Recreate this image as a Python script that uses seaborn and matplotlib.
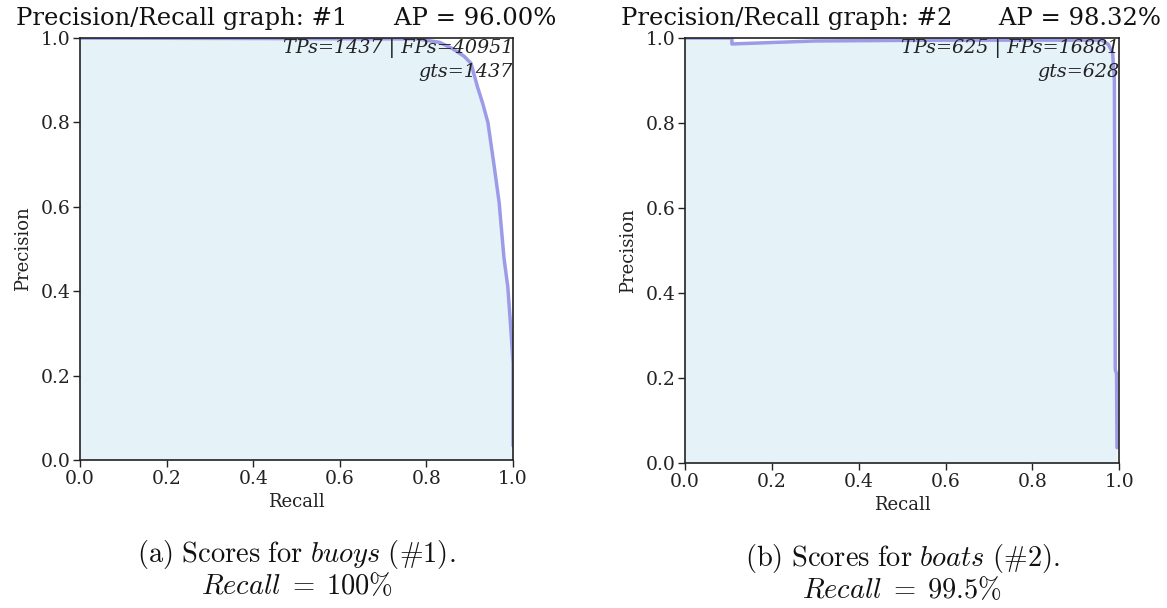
import matplotlib
matplotlib.use("Agg")
import matplotlib.pyplot as plt
import seaborn as sns
import pandas as pd

# Precision/recall curves for the two classes
buoys_recall = [0.0, 0.78, 0.83, 0.86, 0.887, 0.903, 0.918, 0.93, 0.942,
                0.956, 0.968, 0.979, 0.988, 0.995, 1.0, 1.0]
buoys_precision = [1.0, 0.998, 0.99, 0.975, 0.957, 0.94, 0.884, 0.845, 0.80,
                   0.70, 0.61, 0.48, 0.41, 0.31, 0.23, 0.034]

boats_recall = [0.0, 0.108, 0.108, 0.30, 0.60, 0.96, 0.975, 0.985, 0.989,
                0.990, 0.991, 0.994, 0.995]
boats_precision = [1.0, 1.0, 0.986, 0.993, 0.995, 0.995, 0.985, 0.965, 0.90,
                   0.60, 0.22, 0.21, 0.036]

titles = ["Precision/Recall graph: #1      AP = 96.00%",
          "Precision/Recall graph: #2      AP = 98.32%"]
counts = ["TPs=1437 | FPs=40951", "TPs=625 | FPs=16881"]
gts = ["gts=1437", "gts=628"]
captions = [r"$\mathrm{(a)\ Scores\ for\ }\mathit{buoys}\mathrm{\ (\#1).}$",
            r"$\mathrm{(b)\ Scores\ for\ }\mathit{boats}\mathrm{\ (\#2).}$"]
recall_notes = [r"$Recall\;=\;100\%$", r"$Recall\;=\;99.5\%$"]

sns.set_style("ticks")
plt.rcParams["font.family"] = ["DejaVu Serif"]
plt.rcParams["mathtext.fontset"] = "cm"

fig = plt.figure(figsize=(11.67, 6.08), dpi=100)
axes = [fig.add_axes([0.0686, 0.2434, 0.371, 0.694]),
        fig.add_axes([0.587, 0.2385, 0.372, 0.699])]

fill_color = "#e5f3f9"
line_color = "#9b9be8"

series = [(buoys_recall, buoys_precision), (boats_recall, boats_precision)]
for i, (ax, (rec, prec)) in enumerate(zip(axes, series)):
    df = pd.DataFrame({"Recall": rec, "Precision": prec})
    ax.fill_between(df["Recall"], 0, df["Precision"], color=fill_color,
                    linewidth=0, zorder=1)
    sns.lineplot(data=df, x="Recall", y="Precision", sort=False,
                 estimator=None, color=line_color, linewidth=2.5, ax=ax,
                 zorder=2)
    ax.set_xlim(0, 1)
    ax.set_ylim(0, 1)
    ax.set_xticks([0, 0.2, 0.4, 0.6, 0.8, 1.0])
    ax.set_yticks([0, 0.2, 0.4, 0.6, 0.8, 1.0])
    ax.tick_params(labelsize=13.5, length=5, width=1, color="#222222",
                   labelcolor="#222222", pad=2)
    ax.set_xlabel("Recall", fontsize=13, color="#222222", labelpad=4)
    ax.set_ylabel("Precision", fontsize=13, color="#222222", labelpad=6)
    for sp in ax.spines.values():
        sp.set_color("#222222")
        sp.set_linewidth(1.2)
    ax.text(0.475, 1.02, titles[i], transform=ax.transAxes, ha="center",
            va="bottom", fontsize=17.5, color="#111111")
    ax.text(1.0, 0.998, counts[i], transform=ax.transAxes, ha="right",
            va="top", fontsize=13.8, style="italic", color="#222222", zorder=3)
    ax.text(1.0, 0.94, gts[i], transform=ax.transAxes, ha="right",
            va="top", fontsize=13.8, style="italic", color="#222222", zorder=3)
    ax.text(0.5, -0.225, captions[i], transform=ax.transAxes, ha="center",
            va="center", fontsize=20.5, color="#111111")
    ax.text(0.5, -0.30, recall_notes[i], transform=ax.transAxes, ha="center",
            va="center", fontsize=20.5, color="#111111")

fig.savefig("out.png", dpi=100, facecolor="white")
